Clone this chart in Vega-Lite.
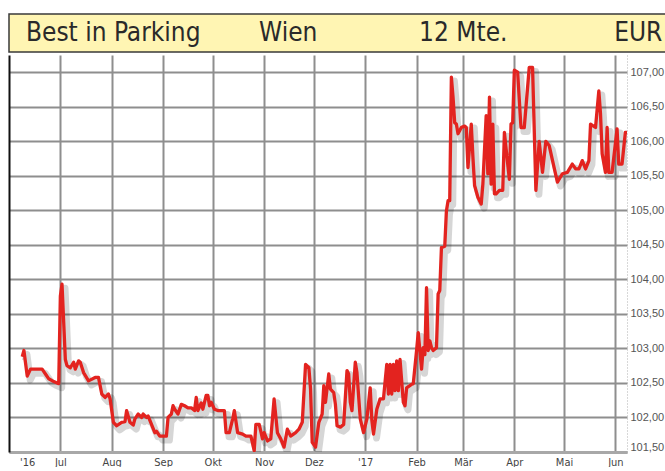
{
  "$schema": "https://vega.github.io/schema/vega-lite/v6.json",
  "padding": {"left": 8, "top": 13, "right": 0, "bottom": 0},
  "background": "white",
  "config": {"concat": {"spacing": 2}, "view": {"stroke": null}},
  "datasets": {
    "header": [
      {"part": "Best in Parking"},
      {"part": "Wien"},
      {"part": "12 Mte."},
      {"part": "EUR"}
    ],
    "prices": [
      {"date": "2016-06-08", "price": 102.88},
      {"date": "2016-06-09", "price": 102.97},
      {"date": "2016-06-11", "price": 102.60},
      {"date": "2016-06-13", "price": 102.70},
      {"date": "2016-06-20", "price": 102.70},
      {"date": "2016-06-22", "price": 102.63},
      {"date": "2016-06-24", "price": 102.56},
      {"date": "2016-06-27", "price": 102.52},
      {"date": "2016-06-29", "price": 102.50},
      {"date": "2016-06-30", "price": 102.49},
      {"date": "2016-07-01", "price": 103.76},
      {"date": "2016-07-02", "price": 103.93},
      {"date": "2016-07-04", "price": 102.84},
      {"date": "2016-07-05", "price": 102.75},
      {"date": "2016-07-07", "price": 102.72},
      {"date": "2016-07-09", "price": 102.80},
      {"date": "2016-07-10", "price": 102.70},
      {"date": "2016-07-12", "price": 102.82},
      {"date": "2016-07-13", "price": 102.80},
      {"date": "2016-07-15", "price": 102.65},
      {"date": "2016-07-18", "price": 102.53},
      {"date": "2016-07-22", "price": 102.58},
      {"date": "2016-07-24", "price": 102.58},
      {"date": "2016-07-26", "price": 102.34},
      {"date": "2016-07-28", "price": 102.29},
      {"date": "2016-07-30", "price": 102.34},
      {"date": "2016-07-31", "price": 102.27},
      {"date": "2016-08-02", "price": 101.93},
      {"date": "2016-08-04", "price": 101.88},
      {"date": "2016-08-07", "price": 101.93},
      {"date": "2016-08-09", "price": 101.94},
      {"date": "2016-08-10", "price": 102.10},
      {"date": "2016-08-12", "price": 101.93},
      {"date": "2016-08-14", "price": 101.89},
      {"date": "2016-08-15", "price": 101.98},
      {"date": "2016-08-17", "price": 102.05},
      {"date": "2016-08-19", "price": 102.00},
      {"date": "2016-08-20", "price": 102.05},
      {"date": "2016-08-22", "price": 102.00},
      {"date": "2016-08-23", "price": 102.02},
      {"date": "2016-08-25", "price": 101.90},
      {"date": "2016-08-27", "price": 101.78},
      {"date": "2016-08-28", "price": 101.80},
      {"date": "2016-08-30", "price": 101.73},
      {"date": "2016-09-01", "price": 101.73},
      {"date": "2016-09-03", "price": 101.73},
      {"date": "2016-09-04", "price": 102.00},
      {"date": "2016-09-06", "price": 102.05},
      {"date": "2016-09-07", "price": 102.17},
      {"date": "2016-09-08", "price": 102.12},
      {"date": "2016-09-10", "price": 102.05},
      {"date": "2016-09-12", "price": 102.19},
      {"date": "2016-09-14", "price": 102.17},
      {"date": "2016-09-16", "price": 102.14},
      {"date": "2016-09-18", "price": 102.14},
      {"date": "2016-09-20", "price": 102.10},
      {"date": "2016-09-21", "price": 102.29},
      {"date": "2016-09-22", "price": 102.10},
      {"date": "2016-09-24", "price": 102.21},
      {"date": "2016-09-25", "price": 102.12},
      {"date": "2016-09-27", "price": 102.32},
      {"date": "2016-09-28", "price": 102.32},
      {"date": "2016-09-29", "price": 102.17},
      {"date": "2016-09-30", "price": 102.22},
      {"date": "2016-10-02", "price": 102.12},
      {"date": "2016-10-04", "price": 102.10},
      {"date": "2016-10-08", "price": 102.10},
      {"date": "2016-10-09", "price": 101.78},
      {"date": "2016-10-11", "price": 101.78},
      {"date": "2016-10-13", "price": 101.98},
      {"date": "2016-10-14", "price": 102.10},
      {"date": "2016-10-16", "price": 101.78},
      {"date": "2016-10-19", "price": 101.76},
      {"date": "2016-10-21", "price": 101.73},
      {"date": "2016-10-24", "price": 101.73},
      {"date": "2016-10-26", "price": 101.52},
      {"date": "2016-10-27", "price": 101.90},
      {"date": "2016-10-29", "price": 101.90},
      {"date": "2016-10-30", "price": 101.80},
      {"date": "2016-10-31", "price": 101.69},
      {"date": "2016-11-01", "price": 101.78},
      {"date": "2016-11-03", "price": 101.66},
      {"date": "2016-11-05", "price": 101.69},
      {"date": "2016-11-07", "price": 102.27},
      {"date": "2016-11-09", "price": 101.78},
      {"date": "2016-11-11", "price": 101.69},
      {"date": "2016-11-13", "price": 101.57},
      {"date": "2016-11-15", "price": 101.83},
      {"date": "2016-11-17", "price": 101.73},
      {"date": "2016-11-20", "price": 101.78},
      {"date": "2016-11-22", "price": 101.83},
      {"date": "2016-11-24", "price": 101.93},
      {"date": "2016-11-26", "price": 102.77},
      {"date": "2016-11-28", "price": 102.72},
      {"date": "2016-11-29", "price": 102.41},
      {"date": "2016-11-30", "price": 101.64},
      {"date": "2016-12-02", "price": 101.57},
      {"date": "2016-12-04", "price": 101.93},
      {"date": "2016-12-06", "price": 102.05},
      {"date": "2016-12-07", "price": 102.46},
      {"date": "2016-12-08", "price": 102.22},
      {"date": "2016-12-10", "price": 102.63},
      {"date": "2016-12-11", "price": 102.41},
      {"date": "2016-12-13", "price": 102.36},
      {"date": "2016-12-14", "price": 102.19},
      {"date": "2016-12-15", "price": 101.88},
      {"date": "2016-12-17", "price": 101.86},
      {"date": "2016-12-19", "price": 101.90},
      {"date": "2016-12-21", "price": 102.68},
      {"date": "2016-12-22", "price": 102.63},
      {"date": "2016-12-23", "price": 102.22},
      {"date": "2016-12-24", "price": 102.10},
      {"date": "2016-12-26", "price": 102.80},
      {"date": "2016-12-27", "price": 102.65},
      {"date": "2016-12-29", "price": 101.98},
      {"date": "2016-12-31", "price": 101.78},
      {"date": "2017-01-02", "price": 101.98},
      {"date": "2017-01-04", "price": 102.43},
      {"date": "2017-01-05", "price": 101.96},
      {"date": "2017-01-06", "price": 101.76},
      {"date": "2017-01-08", "price": 102.12},
      {"date": "2017-01-10", "price": 102.27},
      {"date": "2017-01-12", "price": 102.27},
      {"date": "2017-01-14", "price": 102.77},
      {"date": "2017-01-15", "price": 102.34},
      {"date": "2017-01-16", "price": 102.77},
      {"date": "2017-01-17", "price": 102.34},
      {"date": "2017-01-18", "price": 102.77},
      {"date": "2017-01-19", "price": 102.39},
      {"date": "2017-01-20", "price": 102.82},
      {"date": "2017-01-21", "price": 102.39},
      {"date": "2017-01-22", "price": 102.84},
      {"date": "2017-01-24", "price": 102.22},
      {"date": "2017-01-25", "price": 102.17},
      {"date": "2017-01-26", "price": 102.43},
      {"date": "2017-01-29", "price": 102.48},
      {"date": "2017-01-30", "price": 102.49},
      {"date": "2017-02-01", "price": 102.97},
      {"date": "2017-02-02", "price": 103.23},
      {"date": "2017-02-04", "price": 102.70},
      {"date": "2017-02-05", "price": 103.01},
      {"date": "2017-02-06", "price": 102.91},
      {"date": "2017-02-07", "price": 103.88},
      {"date": "2017-02-08", "price": 102.97},
      {"date": "2017-02-09", "price": 103.11},
      {"date": "2017-02-10", "price": 103.01},
      {"date": "2017-02-11", "price": 102.97},
      {"date": "2017-02-13", "price": 103.01},
      {"date": "2017-02-14", "price": 103.79},
      {"date": "2017-02-15", "price": 103.84},
      {"date": "2017-02-16", "price": 104.46},
      {"date": "2017-02-18", "price": 104.48},
      {"date": "2017-02-19", "price": 104.99},
      {"date": "2017-02-20", "price": 105.14},
      {"date": "2017-02-21", "price": 105.14},
      {"date": "2017-02-22", "price": 106.93},
      {"date": "2017-02-23", "price": 106.64},
      {"date": "2017-02-24", "price": 106.27},
      {"date": "2017-02-25", "price": 106.25},
      {"date": "2017-02-26", "price": 106.11},
      {"date": "2017-02-28", "price": 106.20},
      {"date": "2017-03-02", "price": 106.22},
      {"date": "2017-03-03", "price": 106.20},
      {"date": "2017-03-04", "price": 105.62},
      {"date": "2017-03-06", "price": 106.25},
      {"date": "2017-03-07", "price": 105.77},
      {"date": "2017-03-08", "price": 105.36},
      {"date": "2017-03-10", "price": 105.19},
      {"date": "2017-03-12", "price": 105.09},
      {"date": "2017-03-13", "price": 105.38},
      {"date": "2017-03-15", "price": 106.37},
      {"date": "2017-03-16", "price": 105.53},
      {"date": "2017-03-17", "price": 106.64},
      {"date": "2017-03-18", "price": 105.38},
      {"date": "2017-03-19", "price": 106.25},
      {"date": "2017-03-20", "price": 105.24},
      {"date": "2017-03-21", "price": 105.24},
      {"date": "2017-03-23", "price": 105.29},
      {"date": "2017-03-25", "price": 105.29},
      {"date": "2017-03-26", "price": 106.13},
      {"date": "2017-03-28", "price": 105.67},
      {"date": "2017-03-29", "price": 105.45},
      {"date": "2017-03-30", "price": 106.25},
      {"date": "2017-03-31", "price": 106.27},
      {"date": "2017-04-01", "price": 107.03},
      {"date": "2017-04-03", "price": 107.00},
      {"date": "2017-04-05", "price": 106.20},
      {"date": "2017-04-07", "price": 106.20},
      {"date": "2017-04-10", "price": 107.07},
      {"date": "2017-04-12", "price": 107.07},
      {"date": "2017-04-14", "price": 105.29},
      {"date": "2017-04-16", "price": 106.00},
      {"date": "2017-04-18", "price": 105.55},
      {"date": "2017-04-20", "price": 106.00},
      {"date": "2017-04-22", "price": 105.94},
      {"date": "2017-04-25", "price": 105.62},
      {"date": "2017-04-27", "price": 105.41},
      {"date": "2017-04-30", "price": 105.53},
      {"date": "2017-05-03", "price": 105.55},
      {"date": "2017-05-06", "price": 105.67},
      {"date": "2017-05-08", "price": 105.60},
      {"date": "2017-05-10", "price": 105.60},
      {"date": "2017-05-12", "price": 105.72},
      {"date": "2017-05-14", "price": 105.60},
      {"date": "2017-05-16", "price": 105.72},
      {"date": "2017-05-17", "price": 106.25},
      {"date": "2017-05-20", "price": 106.20},
      {"date": "2017-05-22", "price": 106.73},
      {"date": "2017-05-23", "price": 106.40},
      {"date": "2017-05-24", "price": 105.82},
      {"date": "2017-05-26", "price": 105.55},
      {"date": "2017-05-27", "price": 106.20},
      {"date": "2017-05-28", "price": 105.55},
      {"date": "2017-05-30", "price": 105.55},
      {"date": "2017-06-02", "price": 106.18},
      {"date": "2017-06-03", "price": 105.67},
      {"date": "2017-06-05", "price": 105.67},
      {"date": "2017-06-07", "price": 106.13},
      {"date": "2017-06-08", "price": 106.13}
    ]
  },
  "vconcat": [
    {
      "width": 657,
      "height": 38,
      "view": {"fill": "#fff5b3", "stroke": "#3a3a3a", "strokeWidth": 1.5},
      "data": {"name": "header"},
      "mark": {"type": "text", "font": "Liberation Sans Narrow, DejaVu Sans Condensed, sans-serif", "fontSize": 26, "color": "#2a2a2a", "baseline": "middle", "align": "center"},
      "encoding": {
        "x": {"field": "part", "type": "nominal", "sort": null, "scale": {"type": "point", "padding": 0.377, "align": 0.79}, "axis": null},
        "text": {"field": "part"}
      }
    },
    {
      "width": 618,
      "height": 397,
      "data": {"name": "prices"},
      "encoding": {
        "x": {
          "field": "date",
          "type": "temporal",
          "scale": {"domain": [{"year": 2016, "month": 5, "date": 31}, {"year": 2017, "month": 6, "date": 8}]},
          "axis": {
            "title": null,
            "values": [
              {"year": 2016, "month": 6, "date": 11},
              {"year": 2016, "month": 7, "date": 1},
              {"year": 2016, "month": 8, "date": 1},
              {"year": 2016, "month": 9, "date": 1},
              {"year": 2016, "month": 10, "date": 1},
              {"year": 2016, "month": 11, "date": 1},
              {"year": 2016, "month": 12, "date": 1},
              {"year": 2017, "month": 1, "date": 1},
              {"year": 2017, "month": 2, "date": 1},
              {"year": 2017, "month": 3, "date": 1},
              {"year": 2017, "month": 4, "date": 1},
              {"year": 2017, "month": 5, "date": 1},
              {"year": 2017, "month": 6, "date": 1}
            ],
            "labelExpr": "month(datum.value) == 0 ? \"'17\" : ((month(datum.value) == 5 && year(datum.value) == 2016) ? \"'16\" : ['Jan','Feb','Mär','Apr','Mai','Jun','Jul','Aug','Sep','Okt','Nov','Dez'][month(datum.value)])",
            "grid": true,
            "gridColor": "#8e8e8e",
            "gridWidth": 2,
            "gridOpacity": {"condition": {"test": "month(datum.value) == 5 && year(datum.value) == 2016", "value": 0}, "value": 1},
            "ticks": false,
            "domainColor": "#a8a8a8",
            "domainWidth": 3,
            "labelColor": "#444444",
            "labelFont": "Liberation Sans Narrow, DejaVu Sans Condensed, sans-serif",
            "labelFontSize": 11,
            "labelPadding": 4,
            "labelFlush": false,
            "labelOverlap": false
          }
        }
      },
      "layer": [
        {
          "mark": {"type": "line", "color": "#000000", "opacity": 0.16, "strokeWidth": 7, "xOffset": 3, "yOffset": 4, "clip": true, "strokeJoin": "round"},
          "encoding": {
            "y": {
              "field": "price",
              "type": "quantitative",
              "scale": {"domain": [101.5, 107.25], "nice": false, "zero": false},
              "axis": {"orient": "left", "title": null, "labels": false, "ticks": false, "grid": false, "domainColor": "#111111", "domainWidth": 2}
            }
          }
        },
        {
          "mark": {"type": "line", "color": "#e3231f", "strokeWidth": 3.3, "clip": true, "strokeJoin": "round"},
          "encoding": {
            "y": {
              "field": "price",
              "type": "quantitative",
              "scale": {"domain": [101.5, 107.25], "nice": false, "zero": false},
              "axis": {
                "orient": "right",
                "title": null,
                "values": [101.5, 102, 102.5, 103, 103.5, 104, 104.5, 105, 105.5, 106, 106.5, 107],
                "labelExpr": "replace(format(datum.value, '.2f'), '.', ',')",
                "grid": true,
                "gridColor": "#8e8e8e",
                "gridWidth": 2,
                "ticks": false,
                "domainColor": "#b0b0b0",
                "domainDash": [1, 2],
                "domainWidth": 1,
                "labelColor": "#555555",
                "labelFont": "Liberation Sans, Arial, sans-serif",
                "labelFontSize": 11,
                "labelPadding": 3,
                "labelFlush": 5
              }
            }
          }
        }
      ],
      "resolve": {"axis": {"y": "independent"}}
    }
  ]
}
